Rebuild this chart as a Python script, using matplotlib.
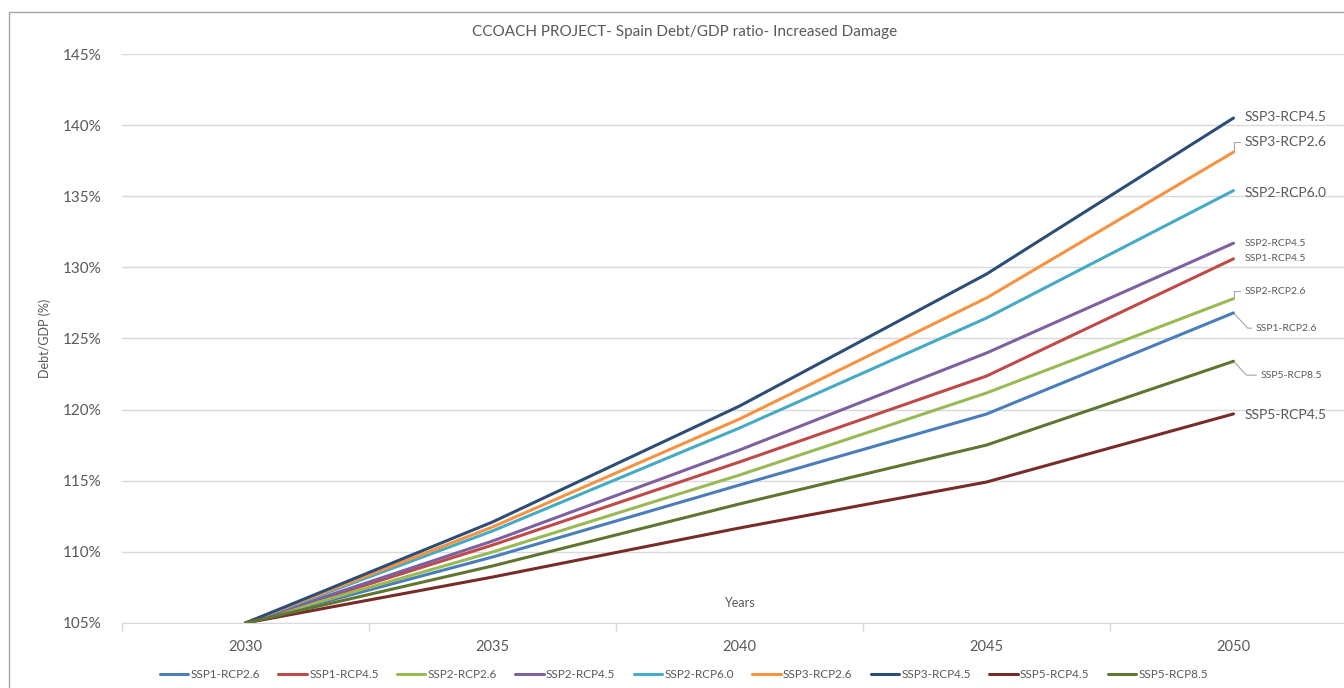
#!/usr/bin/env python

# Recreate the CCOACH Spain Debt/GDP chart.
import matplotlib.pyplot as plt
from matplotlib.patches import Rectangle
from matplotlib.ticker import FuncFormatter, FixedLocator

plt.rcParams['font.family'] = ['Lato', 'DejaVu Sans']

# Data (Debt/GDP in %).
years = ['2030', '2035', '2040', '2045', '2050']
series_names = ['SSP1-RCP2.6', 'SSP1-RCP4.5', 'SSP2-RCP2.6', 'SSP2-RCP4.5',
                'SSP2-RCP6.0', 'SSP3-RCP2.6', 'SSP3-RCP4.5', 'SSP5-RCP4.5',
                'SSP5-RCP8.5']
ssp1_rcp26 = [105.0, 109.64, 114.70, 119.69, 126.8]
ssp1_rcp45 = [105.0, 110.48, 116.32, 122.36, 130.6]
ssp2_rcp26 = [105.0, 109.99, 115.40, 121.17, 127.8]
ssp2_rcp45 = [105.0, 110.76, 117.16, 123.98, 131.7]
ssp2_rcp60 = [105.0, 111.47, 118.71, 126.44, 135.4]
ssp3_rcp26 = [105.0, 111.75, 119.34, 127.85, 138.1]
ssp3_rcp45 = [105.0, 112.10, 120.25, 129.53, 140.5]
ssp5_rcp45 = [105.0, 108.23, 111.68, 114.91, 119.7]
ssp5_rcp85 = [105.0, 109.01, 113.37, 117.51, 123.4]
y_ticks = [105, 110, 115, 120, 125, 130, 135, 140, 145]

series = [ssp1_rcp26, ssp1_rcp45, ssp2_rcp26, ssp2_rcp45, ssp2_rcp60,
          ssp3_rcp26, ssp3_rcp45, ssp5_rcp45, ssp5_rcp85]
colors = ['#4a7ebb', '#be4b48', '#98b954', '#7d60a0', '#46aac5',
          '#f69240', '#2c4d75', '#772c2a', '#5f7530']

# End label styling: (offset x pt, offset y pt, fontsize, leader style)
label_style = {
    'SSP3-RCP4.5': (8, 1, 10, None),
    'SSP3-RCP2.6': (8, 7.5, 10, 'bracket'),
    'SSP2-RCP6.0': (8, -1.5, 10, None),
    'SSP2-RCP4.5': (8, 0, 7.5, None),
    'SSP1-RCP4.5': (8, 0, 7.5, None),
    'SSP2-RCP2.6': (8, 5.5, 7.5, 'bracket'),
    'SSP1-RCP2.6': (16, -11, 7.5, 'diag'),
    'SSP5-RCP8.5': (19.5, -10, 7.5, 'diag'),
    'SSP5-RCP4.5': (8, -0.5, 10, None),
}

grey = '#595959'
fig = plt.figure(figsize=(13.44, 6.88), dpi=100)
ax = fig.add_axes([122 / 1344, 1 - 623 / 688, 1235 / 1344, 569 / 688])

x = list(range(len(years)))
for name, vals, col in zip(series_names, series, colors):
    ax.plot(x, vals, color=col, lw=2.2, label=name, solid_capstyle='round')

# Labels at line ends.
for name, vals, col in zip(series_names, series, colors):
    dx, dy, fs, leader = label_style[name]
    arrow = None
    if leader == 'bracket':
        arrow = dict(arrowstyle='-', color='#a6a6a6', lw=0.8, shrinkA=1, shrinkB=1,
                     relpos=(0, 0.5), connectionstyle='angle,angleA=0,angleB=90,rad=0')
    elif leader == 'diag':
        arrow = dict(arrowstyle='-', color='#a6a6a6', lw=0.8, shrinkA=1, shrinkB=1,
                     relpos=(0, 0.5), connectionstyle='angle,angleA=0,angleB=-47,rad=0')
    ax.annotate(name, xy=(x[-1], vals[-1]), xytext=(dx, dy), textcoords='offset points',
                ha='left', va='center', fontsize=fs, color=grey, arrowprops=arrow)

ax.set_xlim(-0.5, len(years) - 0.5)
ax.set_ylim(105, 145)
ax.yaxis.set_major_locator(FixedLocator(y_ticks))
ax.yaxis.set_major_formatter(FuncFormatter(lambda v, p: f'{v:.0f}%'))
ax.grid(axis='y', color='#d9d9d9', lw=1)
ax.set_axisbelow(True)
ax.set_xticks(x)
ax.set_xticklabels(years)
ax.set_xticks([i + 0.5 for i in range(-1, len(years))], minor=True)
ax.tick_params(axis='x', which='major', length=0, pad=12, labelsize=10.5, labelcolor=grey)
ax.tick_params(axis='x', which='minor', length=6, color='#d9d9d9', width=1)
ax.tick_params(axis='y', length=0, pad=15, labelsize=11, labelcolor=grey)
for side in ['top', 'right', 'left']:
    ax.spines[side].set_visible(False)
ax.spines['bottom'].set_color('#d9d9d9')

ax.set_ylabel('Debt/GDP (%)', fontsize=9, color=grey, labelpad=8)
ax.text(739 / 1344, 1 - 603 / 688, 'Years', transform=fig.transFigure,
        ha='center', va='center', fontsize=9, color=grey)
fig.text(685 / 1344, 1 - 32 / 688, 'CCOACH PROJECT- Spain Debt/GDP ratio- Increased Damage',
         ha='center', va='center', fontsize=11, color=grey)

fig.legend(loc='center', bbox_to_anchor=(684 / 1344, 1 - 675 / 688), ncol=9,
           frameon=False, fontsize=8.5, labelcolor=grey, handlelength=2.4,
           handletextpad=0.2, columnspacing=1.55)

# Chart frame.
fig.patches.append(Rectangle((9 / 1344, -0.1), 1.2, 1 - 12 / 688 + 0.1,
                             transform=fig.transFigure, fill=False,
                             edgecolor='#a6a6a6', lw=1))

fig.savefig('out.png', dpi=100)
